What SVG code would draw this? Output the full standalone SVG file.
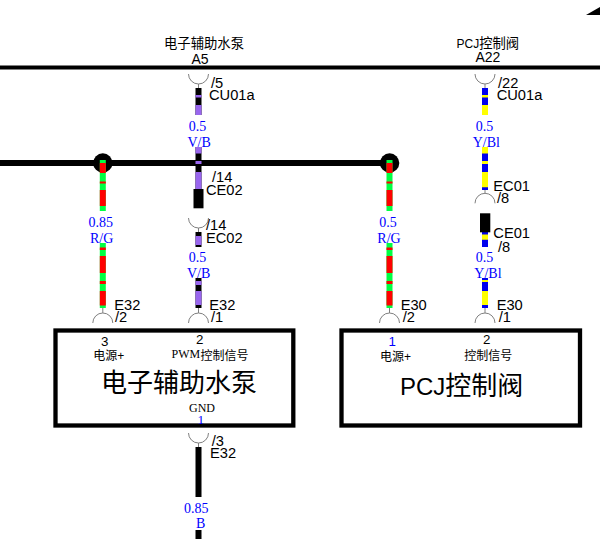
<svg xmlns="http://www.w3.org/2000/svg" width="600" height="539" viewBox="0 0 600 539">
<style>
text{font-family:"Liberation Sans","Noto Sans CJK SC",sans-serif;fill:#000;font-size:14.67px}
.s{font-family:"Liberation Serif","Noto Sans CJK SC",serif}
.b{fill:#0000ff;font-size:14px}
.t{font-size:13.33px}
.a{font-size:14px}
.p{font-size:12px}
.n{font-size:13.33px}
.h{font-size:26px}
.bl{fill:#0000ff}
.bus{stroke:#000;fill:none}
.arc{stroke:#808080;stroke-width:1;fill:none}
.w{fill:none;stroke-width:6}
.k{stroke:#000}.v{stroke:#9966ee}.r{stroke:#ff0000}.g{stroke:#00ff44}.y{stroke:#ffff00}.u{stroke:#0000ee}
.box{fill:#fff;stroke:#000;stroke-width:4.3}
</style>
<rect width="600" height="539" fill="#fff"/>
<g id="connectors">
<path class="bus" stroke-width="4" d="M0 67.500H600"/>
<path class="bus" stroke-width="6" d="M0 163H390"/>
<path d="M586 15H600V7Z" fill="#000"/>
<circle cx="102.800" cy="163" r="9.700" fill="#000"/>
<circle cx="389.600" cy="163" r="9.700" fill="#000"/>
<path class="arc" d="M188.500 74a10 10 0 0 0 20 0M198.500 84v4M188.500 218a10 10 0 0 0 20 0M198.500 228v4M188.500 323a10 10 0 0 1 20 0M198.500 313v-5M188.500 433a10 10 0 0 0 20 0M198.500 443v4"/>
<path class="arc" d="M475 74a10 10 0 0 0 20 0M485 84v4M475 203.300a10 10 0 0 1 20 0M485 193.300v-3.300M475 323a10 10 0 0 1 20 0M485 313v-5"/>
<path class="arc" d="M92.800 323a10 10 0 0 1 20 0M102.800 313v-5M379.500 323a10 10 0 0 1 20 0M389.500 313v-5"/>
<g id="wire-vb">
<path class="w k" d="M198.500 88V115M198.500 147V189M198.500 232V247M198.500 278V308"/>
<path class="w v" d="M198.500 95V97.500M198.500 105V115M198.500 147V153.500M198.500 161V164M198.500 172V189M198.500 236V245M198.500 281V285M198.500 291V305"/>
<rect x="193.500" y="189" width="10" height="19.300" fill="#000"/>
</g>
<g id="wire-rg1">
<path class="w g" d="M102.800 160V211M102.800 243V308"/>
<path class="w r" d="M102.800 163V173M102.800 181.500V183.500M102.800 190V206M102.800 247.500V250M102.800 256V273M102.800 281V284M102.800 291V305.500"/>
</g>
<g id="wire-rg2">
<path class="w g" d="M389.500 160V211M389.500 243V308"/>
<path class="w r" d="M389.500 163V173M389.500 181.500V183.500M389.500 190V206M389.500 247.500V250M389.500 256V273M389.500 281V284M389.500 291V305.500"/>
</g>
<g id="wire-ybl">
<path class="w u" d="M485 88V115M485 147V190M485 232V247M485 278V308"/>
<path class="w y" d="M485 95V97.500M485 105V115M485 147V153.500M485 161V164M485 172V187.300M485 234.500V239.700M485 280V282M485 291V305"/>
<rect x="480" y="213.300" width="10.300" height="19" fill="#000"/>
</g>
<path class="w k" d="M198.500 447V497M198.500 530V539"/>
</g>
<g id="labels-a5">
<text class="t" x="164" y="48">电子辅助水泵</text>
<text class="a" x="191.500" y="64">A5</text>
<text x="211" y="88">/5</text>
<text x="209" y="100">CU01a</text>
<text class="s b" x="188.700" y="130.700">0.5</text>
<text class="s b" x="187.500" y="147">V/B</text>
<text x="212" y="182">/14</text>
<text x="206" y="195">CE02</text>
<text x="206" y="229.500">/14</text>
<text x="206" y="243">EC02</text>
<text class="s b" x="188.700" y="262.300">0.5</text>
<text class="s b" x="187" y="277.700">V/B</text>
<text class="s b" x="88.500" y="226.700">0.85</text>
<text class="s b" x="90" y="242.700">R/G</text>
<text x="114.300" y="310">E32</text>
<text x="115" y="322">/2</text>
<text x="209.300" y="310">E32</text>
<text x="211" y="322">/1</text>
</g>
<g id="labels-a22">
<text class="t" x="456.500" y="47.500"><tspan font-size="12">PCJ</tspan>控制阀</text>
<text class="a" x="475.500" y="62">A22</text>
<text x="498" y="88">/22</text>
<text x="496.700" y="100">CU01a</text>
<text class="s b" x="475.700" y="130.700">0.5</text>
<text class="s b" x="472.700" y="147">Y/Bl</text>
<text x="493.300" y="190.700">EC01</text>
<text x="497" y="202.700">/8</text>
<text x="493.300" y="238.300">CE01</text>
<text x="498" y="251.700">/8</text>
<text class="s b" x="475.700" y="262.300">0.5</text>
<text class="s b" x="474.300" y="277.700">Y/Bl</text>
<text class="s b" x="379.300" y="226.700">0.5</text>
<text class="s b" x="377.300" y="242.700">R/G</text>
<text x="400.700" y="310">E30</text>
<text x="402.700" y="322">/2</text>
<text x="496.700" y="310">E30</text>
<text x="498.700" y="322">/1</text>
</g>
<g id="node-pump">
<rect class="box" x="55.500" y="330.500" width="237.800" height="95"/>
<text class="n" x="101" y="345.700">3</text>
<text class="p" x="93.300" y="360">电源+</text>
<text class="n" x="196" y="344.300">2</text>
<text class="p s" x="171.500" y="358.300">PWM</text>
<text class="p" x="200.500" y="360">控制信号</text>
<text class="h" x="101" y="391.500">电子辅助水泵</text>
<text class="p s" x="189" y="411.700">GND</text>
<text class="n s bl" x="197.500" y="424">1</text>
</g>
<g id="node-pcj">
<rect class="box" x="341.500" y="330.500" width="238.500" height="95"/>
<text class="n bl" x="388.500" y="345.700">1</text>
<text class="p" x="380" y="361">电源+</text>
<text class="n" x="483" y="344.300">2</text>
<text class="p" x="464.300" y="360">控制信号</text>
<text class="h" x="400" y="395"><tspan font-size="24">PCJ</tspan>控制阀</text>
</g>
<g id="labels-gnd">
<text x="211.700" y="446">/3</text>
<text x="210" y="458.300">E32</text>
<text class="s b" x="184" y="512.700">0.85</text>
<text class="s b" x="196" y="528.300">B</text>
</g>
</svg>
